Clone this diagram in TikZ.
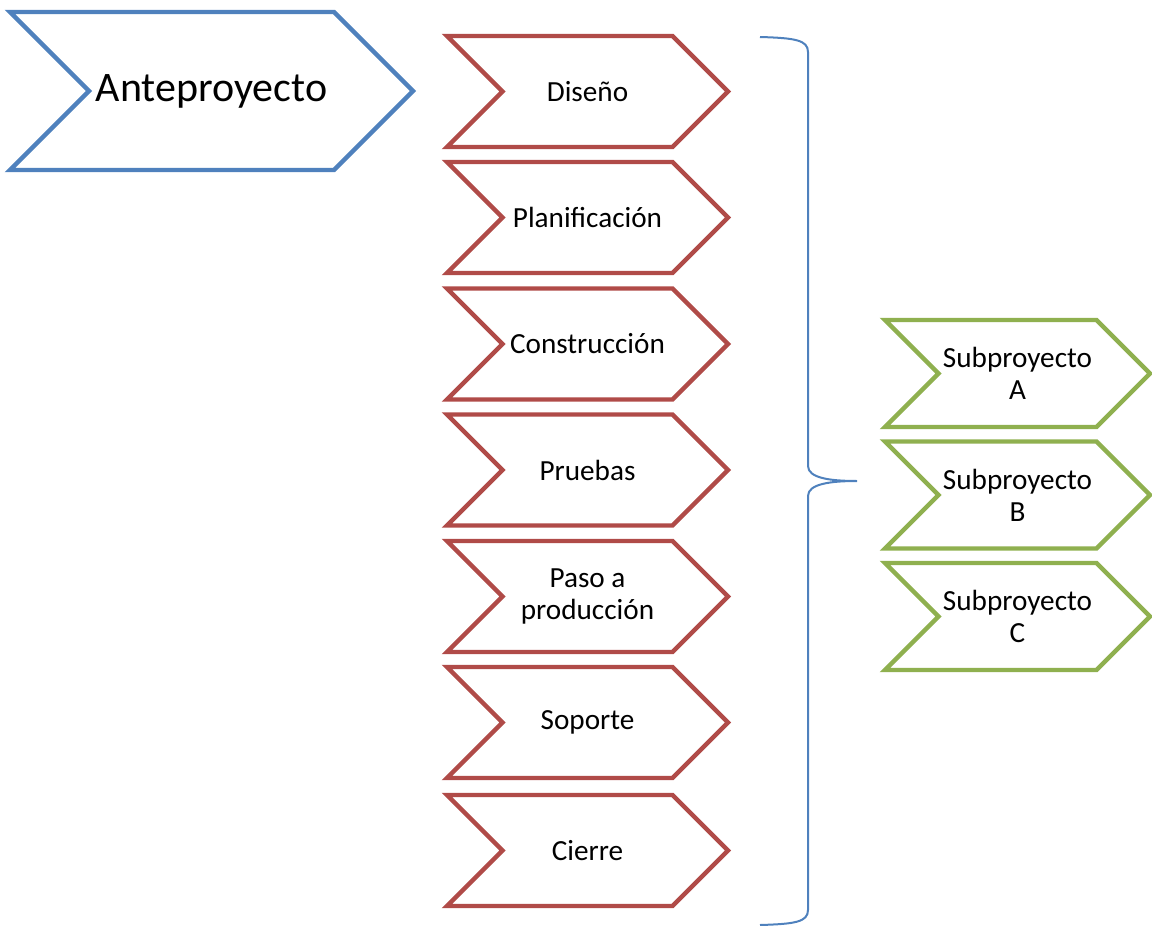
\documentclass[tikz,border=0pt]{standalone}
\usepackage{fontspec}
\setmainfont{Carlito}
\usetikzlibrary{shapes.symbols}

\definecolor{antblue}{HTML}{4F81BD}
\definecolor{fasered}{HTML}{B04B48}
\definecolor{subgreen}{HTML}{8FB04F}

\tikzset{
  chev/.style={signal, signal from=west, signal to=east, signal pointer angle=90,
    fill=white, line width=2.2pt, align=center, inner sep=0pt},
  antebox/.style={chev, draw=antblue, minimum width=201.5pt, minimum height=79pt, font=\fontsize{21}{24}\selectfont},
  fasebox/.style={chev, draw=fasered, minimum width=140.5pt, minimum height=55.5pt, font=\fontsize{14.6}{16}\selectfont},
  subbox/.style={chev, draw=subgreen, minimum width=132.5pt, minimum height=53.5pt, font=\fontsize{14.6}{16}\selectfont},
}

\begin{document}
\begin{tikzpicture}[x=0.5pt,y=-0.5pt]
  \useasboundingbox (0,0) rectangle (1152,926);
  % proyecto principal
  \node[antebox] (ante) at (211.5,91) {Anteproyecto};
  % fases
  \node[fasebox] (dis) at (587.5,91.5) {Diseño};
  \node[fasebox] (pla) at (587.5,217.5) {Planificación};
  \node[fasebox] (con) at (587.5,344) {Construcción};
  \node[fasebox] (pru) at (587.5,470) {Pruebas};
  \node[fasebox] (pas) at (587.5,596.5) {Paso a\\producción};
  \node[fasebox] (sop) at (587.5,722.5) {Soporte};
  \node[fasebox] (cie) at (587.5,850.5) {Cierre};
  % subproyectos
  \node[subbox] (suba) at (1017.5,373.5) {Subproyecto\\A};
  \node[subbox] (subb) at (1017.5,495) {Subproyecto\\B};
  \node[subbox] (subc) at (1017.5,616.5) {Subproyecto\\C};
  % llave
  \coordinate (btop) at (760,37);
  \coordinate (btip) at (857,481);
  \coordinate (bbot) at (760,925);
  \draw[antblue, line width=1pt] (btop) .. controls (795,38) and (808,40) .. (808,52)
    -- (808,466) .. controls (808,478) and (830,481) .. (btip)
    .. controls (830,481) and (808,484) .. (808,496)
    -- (808,910) .. controls (808,922) and (795,924) .. (bbot);
\end{tikzpicture}
\end{document}
